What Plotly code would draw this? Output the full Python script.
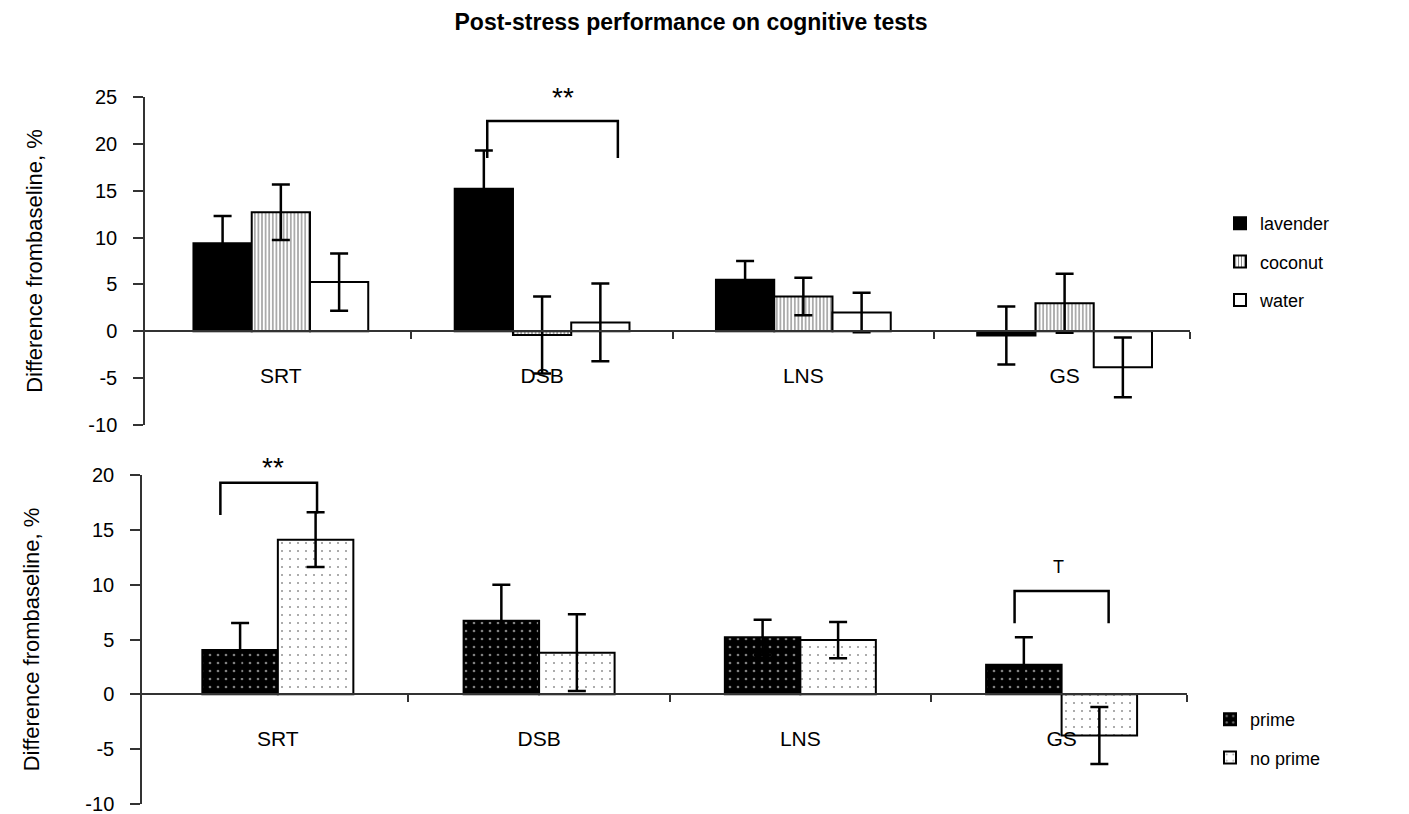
import plotly.graph_objects as go

# ---- data -------------------------------------------------------------
categories = ["SRT", "DSB", "LNS", "GS"]

# top panel: odour condition
lavender = [9.4, 15.2, 5.5, -0.45]
lavender_err = [2.9, 4.1, 2.0, 3.1]
coconut = [12.7, -0.4, 3.7, 3.0]
coconut_err = [2.95, 4.1, 2.0, 3.15]
water = [5.25, 0.95, 2.0, -3.85]
water_err = [3.05, 4.15, 2.1, 3.2]

# bottom panel: priming condition
prime = [4.05, 6.7, 5.2, 2.7]
prime_err = [2.45, 3.3, 1.6, 2.5]
no_prime = [14.1, 3.8, 4.95, -3.75]
no_prime_err = [2.5, 3.5, 1.65, 2.6]

top_ticks = [25, 20, 15, 10, 5, 0, -5, -10]
bottom_ticks = [20, 15, 10, 5, 0, -5, -10]

# significance brackets: x_left, x_right, y_bar, y_left_end, y_right_end, label, label_x, label_y
top_brackets = [(0.79, 1.29, 22.45, 18.5, 18.5, "**", 1.08, 24.9)]
bottom_brackets = [
    (-0.22, 0.15, 19.3, 16.35, 16.5, "**", -0.02, 20.7),
    (2.82, 3.18, 9.43, 6.48, 6.48, "T", 2.99, 11.6),
]

# ---- layout helpers ---------------------------------------------------
W, H = 1409, 814
FONT = "Liberation Sans, Arial, sans-serif"
AXIS_GREY = "#333333"
X_RANGE = [-0.52, 3.48]
xpos = list(range(len(categories)))


def px_x(p):
    return p / W


def px_y(p):
    return 1 - p / H


top_dom = [px_y(425), px_y(97)]
bot_dom = [px_y(804), px_y(475)]
top_range = [-10, 25]
bot_range = [-10, 20]


def data_to_paper(v, dom, rng):
    return dom[0] + (v - rng[0]) / (rng[1] - rng[0]) * (dom[1] - dom[0])


fig = go.Figure()


def add_bars(values, errors, name, k, n, width, xa, ya, legend, fill, pattern):
    fig.add_trace(go.Bar(
        x=xpos, y=values, name=name,
        width=width, offset=-n * width / 2 + k * width,
        marker=dict(color=fill, line=dict(color="black", width=2), pattern=pattern),
        error_y=dict(type="data", array=errors, color="black", thickness=2.5, width=9),
        xaxis=xa, yaxis=ya, legend=legend, legendgroup=name,
    ))


top_w = 0.223
add_bars(lavender, lavender_err, "lavender", 0, 3, top_w, "x", "y", "legend", "black", None)
add_bars(coconut, coconut_err, "coconut", 1, 3, top_w, "x", "y", "legend", "white",
         dict(shape="|", fgcolor="black", bgcolor="white", size=3.6, solidity=0.33))
add_bars(water, water_err, "water", 2, 3, top_w, "x", "y", "legend", "white", None)

bot_w = 0.289
add_bars(prime, prime_err, "prime", 0, 2, bot_w, "x2", "y2", "legend2", "black",
         dict(shape=".", fgcolor="white", bgcolor="black", size=8, solidity=0.09))
add_bars(no_prime, no_prime_err, "no prime", 1, 2, bot_w, "x2", "y2", "legend2", "white",
         dict(shape=".", fgcolor="#222222", bgcolor="white", size=8, solidity=0.05))

shapes = []
annotations = []
for brackets, xr, yr, dom, rng in ((top_brackets, "x", "y", top_dom, top_range),
                                   (bottom_brackets, "x2", "y2", bot_dom, bot_range)):
    for xl, xrr, yb, yl, yre, label, lx, ly in brackets:
        shapes.append(dict(
            type="path", xref=xr, yref=yr,
            path=f"M {xl},{yl} L {xl},{yb} L {xrr},{yb} L {xrr},{yre}",
            line=dict(color="black", width=2.5),
        ))
        annotations.append(dict(
            x=lx, y=data_to_paper(ly, dom, rng), xref=xr, yref="paper",
            text=label, showarrow=False,
            font=dict(family=FONT, size=28 if label == "**" else 18, color="black"),
            xanchor="center", yanchor="middle",
        ))


def x_axis(dom, ydom, yrng):
    return dict(
        domain=dom, range=X_RANGE, anchor="free", automargin=False,
        position=data_to_paper(0, ydom, yrng),
        showline=True, linecolor=AXIS_GREY, linewidth=1.5,
        tickmode="array", tickvals=xpos, ticktext=categories, ticks="",
        ticklabelstandoff=26,
        tickfont=dict(family=FONT, size=21, color="black"),
        minor=dict(tickmode="array", tickvals=[0.5, 1.5, 2.5, X_RANGE[1]],
                   ticks="outside", ticklen=7, tickwidth=1.5, tickcolor=AXIS_GREY,
                   showgrid=False),
        showgrid=False, zeroline=False, fixedrange=True,
    )


def y_axis(dom, rng, ticks, anchor_x):
    return dict(
        domain=dom, range=rng, anchor=anchor_x, automargin=False,
        showline=True, linecolor=AXIS_GREY, linewidth=1.5,
        tickmode="array", tickvals=ticks, ticktext=[str(t) for t in ticks],
        ticks="outside", ticklen=10, tickwidth=1.5, tickcolor=AXIS_GREY,
        ticklabelstandoff=12, ticklabeloverflow="allow",
        tickfont=dict(family=FONT, size=20, color="black"),
        showgrid=False, zeroline=False,
        title=dict(text="Difference frombaseline, %", standoff=40,
                   font=dict(family=FONT, size=22, color="black")),
    )


fig.update_layout(
    width=W, height=H,
    margin=dict(l=0, r=0, t=0, b=0, autoexpand=False),
    paper_bgcolor="white", plot_bgcolor="white",
    barmode="overlay",
    title=dict(text="<b>Post-stress performance on cognitive tests</b>",
               x=px_x(691), xanchor="center", y=px_y(22), yanchor="middle",
               font=dict(family=FONT, size=23, color="black")),
    xaxis=x_axis([px_x(145), px_x(1190)], top_dom, top_range),
    yaxis=y_axis(top_dom, top_range, top_ticks, "x"),
    xaxis2=x_axis([px_x(142), px_x(1187)], bot_dom, bot_range),
    yaxis2=y_axis(bot_dom, bot_range, bottom_ticks, "x2"),
    legend=dict(x=px_x(1220), y=px_y(205), xanchor="left", yanchor="top",
                font=dict(family=FONT, size=18, color="black"),
                traceorder="grouped", tracegroupgap=12, bgcolor="rgba(0,0,0,0)"),
    legend2=dict(x=px_x(1210), y=px_y(701), xanchor="left", yanchor="top",
                 font=dict(family=FONT, size=18, color="black"),
                 traceorder="grouped", tracegroupgap=12, bgcolor="rgba(0,0,0,0)"),
    shapes=shapes,
    annotations=annotations,
)

fig.write_html("out.html")
